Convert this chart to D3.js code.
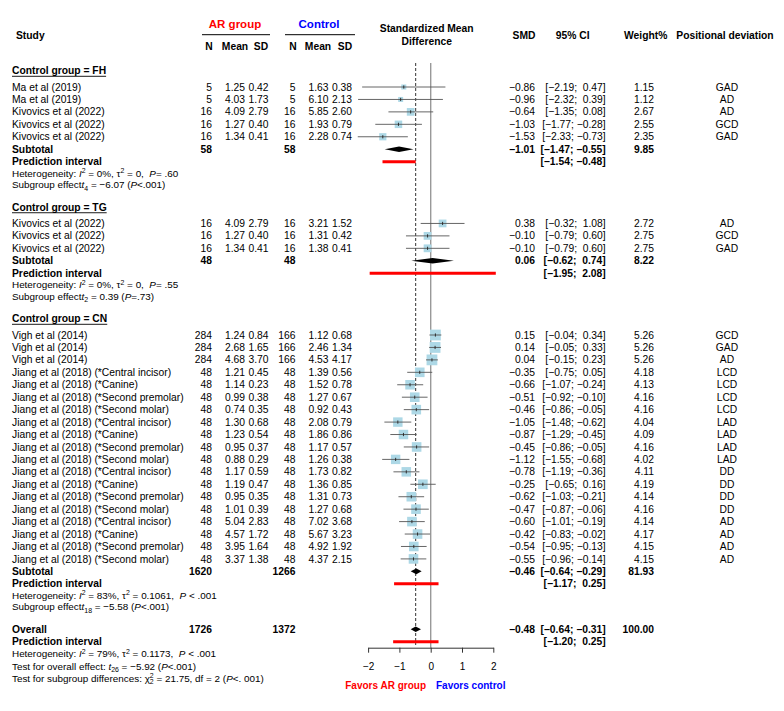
<!DOCTYPE html>
<html>
<head>
<meta charset="utf-8">
<script src="https://cdn.jsdelivr.net/npm/d3@7"></script>
<style>
  body { margin: 0; background: #fff; }
  svg text { font-family: "Liberation Sans", Arial, Helvetica, sans-serif; white-space: pre; }
</style>
</head>
<body>
<svg id="chart" width="784" height="711"></svg>
<script>
// ---- data ----
const groupNames = ["FH", "TG", "CN"];
const groupSizes = [5, 3, 19];

const studyNames = [
  "Ma et al (2019)", "Ma et al (2019)", "Kivovics et al (2022)", "Kivovics et al (2022)", "Kivovics et al (2022)",
  "Kivovics et al (2022)", "Kivovics et al (2022)", "Kivovics et al (2022)",
  "Vigh et al (2014)", "Vigh et al (2014)", "Vigh et al (2014)",
  "Jiang et al (2018) (*Central incisor)", "Jiang et al (2018) (*Canine)", "Jiang et al (2018) (*Second premolar)", "Jiang et al (2018) (*Second molar)",
  "Jiang et al (2018) (*Central incisor)", "Jiang et al (2018) (*Canine)", "Jiang et al (2018) (*Second premolar)", "Jiang et al (2018) (*Second molar)",
  "Jiang et al (2018) (*Central incisor)", "Jiang et al (2018) (*Canine)", "Jiang et al (2018) (*Second premolar)", "Jiang et al (2018) (*Second molar)",
  "Jiang et al (2018) (*Central incisor)", "Jiang et al (2018) (*Canine)", "Jiang et al (2018) (*Second premolar)", "Jiang et al (2018) (*Second molar)"
];
const arN    = [5, 5, 16, 16, 16, 16, 16, 16, 284, 284, 284, 48, 48, 48, 48, 48, 48, 48, 48, 48, 48, 48, 48, 48, 48, 48, 48];
const arMean = [1.25, 4.03, 4.09, 1.27, 1.34, 4.09, 1.27, 1.34, 1.24, 2.68, 4.68, 1.21, 1.14, 0.99, 0.74, 1.30, 1.23, 0.95, 0.88, 1.17, 1.19, 0.95, 1.01, 5.04, 4.57, 3.95, 3.37];
const arSD   = [0.42, 1.73, 2.79, 0.40, 0.41, 2.79, 0.40, 0.41, 0.84, 1.65, 3.70, 0.45, 0.23, 0.38, 0.35, 0.68, 0.54, 0.37, 0.29, 0.59, 0.47, 0.35, 0.39, 2.83, 1.72, 1.64, 1.38];
const ctN    = [5, 5, 16, 16, 16, 16, 16, 16, 166, 166, 166, 48, 48, 48, 48, 48, 48, 48, 48, 48, 48, 48, 48, 48, 48, 48, 48];
const ctMean = [1.63, 6.10, 5.85, 1.93, 2.28, 3.21, 1.31, 1.38, 1.12, 2.46, 4.53, 1.39, 1.52, 1.27, 0.92, 2.08, 1.86, 1.17, 1.26, 1.73, 1.36, 1.31, 1.27, 7.02, 5.67, 4.92, 4.37];
const ctSD   = [0.38, 2.13, 2.60, 0.79, 0.74, 1.52, 0.42, 0.41, 0.68, 1.34, 4.17, 0.56, 0.78, 0.67, 0.43, 0.79, 0.86, 0.57, 0.38, 0.82, 0.85, 0.73, 0.68, 3.68, 3.23, 1.92, 2.15];
const smd    = [-0.86, -0.96, -0.64, -1.03, -1.53, 0.38, -0.10, -0.10, 0.15, 0.14, 0.04, -0.35, -0.66, -0.51, -0.46, -1.05, -0.87, -0.45, -1.12, -0.78, -0.25, -0.62, -0.47, -0.60, -0.42, -0.54, -0.55];
const ciLo   = [-2.19, -2.32, -1.35, -1.77, -2.33, -0.32, -0.79, -0.79, -0.04, -0.05, -0.15, -0.75, -1.07, -0.92, -0.86, -1.48, -1.29, -0.86, -1.55, -1.19, -0.65, -1.03, -0.87, -1.01, -0.83, -0.95, -0.96];
const ciHi   = [0.47, 0.39, 0.08, -0.28, -0.73, 1.08, 0.60, 0.60, 0.34, 0.33, 0.23, 0.05, -0.24, -0.10, -0.05, -0.62, -0.45, -0.05, -0.68, -0.36, 0.16, -0.21, -0.06, -0.19, -0.02, -0.13, -0.14];
const weight = [1.15, 1.12, 2.67, 2.55, 2.35, 2.72, 2.75, 2.75, 5.26, 5.26, 5.26, 4.18, 4.13, 4.16, 4.16, 4.04, 4.09, 4.16, 4.02, 4.11, 4.19, 4.14, 4.16, 4.14, 4.17, 4.15, 4.15];
const deviation = ["GAD", "AD", "AD", "GCD", "GAD", "AD", "GCD", "GAD", "GCD", "GAD", "AD",
  "LCD", "LCD", "LCD", "LCD", "LAD", "LAD", "LAD", "LAD", "DD", "DD", "DD", "DD", "AD", "AD", "AD", "AD"];

const subArN   = [58, 48, 1620];
const subCtN   = [58, 48, 1266];
const subSmd   = [-1.01, 0.06, -0.46];
const subLo    = [-1.47, -0.62, -0.64];
const subHi    = [-0.55, 0.74, -0.29];
const subWeight = [9.85, 8.22, 81.93];
const piLo     = [-1.54, -1.95, -1.17];
const piHi     = [-0.48, 2.08, 0.25];
const hetI2    = ["0%", "0%", "83%"];
const hetTau2  = ["0", "0", "0.1061"];
const hetP     = ["= .60", "= .55", " < .001"];
const subDf    = ["4", "2", "18"];
const subT     = ["\u22126.07", "0.39", "\u22125.58"];
const subP     = ["<.001", "=.73", "<.001"];

const overallN = [1726, 1372];
const overallEst = [-0.48, -0.64, -0.31];
const overallPI = [-1.20, 0.25];
const overallHet = ["79%", "0.1173", " < .001"];
const overallTest = ["26", "\u22125.92", "<.001"];
const subgroupTest = ["21.75", "2", "<. 001"];

const xTicks = [-2, -1, 0, 1, 2];

// ---- layout ----
const svg = d3.select("#chart");
const FONT = 10.3, SMALL = 9.9;
const rowH = 12.44, hetH = 11.5;
const f2 = d3.format(".2f");
const ciText = (lo, hi) => `[${f2(lo)}; ${hi >= 0 ? " " : ""}${f2(hi)}]`;

const x = d3.scaleLinear().domain([-2, 2]).range([368.1, 493.3]);
const col = { study: 12, arN: 212, arMean: 245, arSD: 268.5, ctN: 295.5, ctMean: 328.5, ctSD: 352, smd: 535, ci: 605.7, w: 654, dev: 727 };

function txt(xp, yp, s, opt = {}) {
  return svg.append("text")
    .attr("x", xp).attr("y", yp).attr("dy", "0.35em")
    .attr("font-size", opt.size || FONT)
    .attr("font-weight", opt.bold ? "bold" : null)
    .attr("text-anchor", opt.anchor || "start")
    .attr("fill", opt.color || "#000")
    .text(s);
}

// rich text: segments [string, kind] kind in "", "i", "sup", "sub"
function rich(xp, yp, segs) {
  const t = svg.append("text").attr("x", xp).attr("y", yp + SMALL * 0.35)
    .attr("font-size", SMALL).attr("fill", "#000");
  let shift = 0;
  segs.forEach(([s, k]) => {
    const sp = t.append("tspan").text(s);
    let target = 0;
    if (k === "i") sp.attr("font-style", "italic");
    if (k === "sup") { target = -3.5; sp.attr("font-size", SMALL * 0.7); }
    if (k === "sub") { target = 2.6; sp.attr("font-size", SMALL * 0.7); }
    if (target !== shift) sp.attr("dy", target - shift);
    shift = target;
  });
  return t;
}

// header
txt(16, 35, "Study", { bold: true });
txt(235, 24, "AR group", { bold: true, size: 11.5, anchor: "middle", color: "#FF0000" });
txt(319, 24, "Control", { bold: true, size: 11.5, anchor: "middle", color: "#0000FF" });
svg.append("line").attr("x1", 202).attr("x2", 270).attr("y1", 34.7).attr("y2", 34.7).attr("stroke", "#000");
svg.append("line").attr("x1", 285).attr("x2", 355).attr("y1", 34.7).attr("y2", 34.7).attr("stroke", "#000");
[["N", 209], ["Mean", 235], ["SD", 261], ["N", 293], ["Mean", 318], ["SD", 345]].forEach(([s, xp]) =>
  txt(xp, 46.7, s, { bold: true, anchor: "middle" }));
txt(426.7, 28.7, "Standardized Mean", { bold: true, anchor: "middle" });
txt(426.7, 41, "Difference", { bold: true, anchor: "middle" });
txt(524, 35, "SMD", { bold: true, anchor: "middle" });
txt(572.7, 35, "95% CI", { bold: true, anchor: "middle" });
txt(645.7, 35, "Weight%", { bold: true, anchor: "middle" });
txt(725, 35, "Positional deviation", { bold: true, anchor: "middle" });

// reference lines
const plotTop = 63, axisY = 647.7;
svg.append("line").attr("x1", x(0)).attr("x2", x(0)).attr("y1", plotTop).attr("y2", axisY)
  .attr("stroke", "#999").attr("stroke-width", 1.4);
svg.append("line").attr("x1", x(overallEst[0])).attr("x2", x(overallEst[0])).attr("y1", plotTop).attr("y2", 645)
  .attr("stroke", "#333").attr("stroke-width", 1).attr("stroke-dasharray", "3,2");

function diamond(yp, est, lo, hi) {
  const h = 2.8;
  svg.append("polygon")
    .attr("points", [[x(lo), yp], [x(est), yp - h], [x(hi), yp], [x(est), yp + h]].map(p => p.join(",")).join(" "))
    .attr("fill", "#000");
}
function piLine(yp, lo, hi) {
  svg.append("line").attr("x1", x(lo)).attr("x2", x(hi)).attr("y1", yp).attr("y2", yp)
    .attr("stroke", "#FF0000").attr("stroke-width", 3);
}

let y = 70.7;
let idx = 0;
groupNames.forEach((g, gi) => {
  const head = txt(col.study, y, `Control group = ${g}`, { bold: true });
  const len = head.node().getComputedTextLength();
  svg.append("line").attr("x1", col.study).attr("x2", col.study + len)
    .attr("y1", y + 5.6).attr("y2", y + 5.6).attr("stroke", "#000").attr("stroke-width", 0.9);
  y += 16.3;
  for (let k = 0; k < groupSizes[gi]; k++, idx++) {
    const i = idx;
    txt(col.study, y, studyNames[i]);
    txt(col.arN, y, arN[i], { anchor: "end" });
    txt(col.arMean, y, f2(arMean[i]), { anchor: "end" });
    txt(col.arSD, y, f2(arSD[i]), { anchor: "end" });
    txt(col.ctN, y, ctN[i], { anchor: "end" });
    txt(col.ctMean, y, f2(ctMean[i]), { anchor: "end" });
    txt(col.ctSD, y, f2(ctSD[i]), { anchor: "end" });
    txt(col.smd, y, f2(smd[i]), { anchor: "end" });
    txt(col.ci, y, ciText(ciLo[i], ciHi[i]), { anchor: "end" });
    txt(col.w, y, f2(weight[i]), { anchor: "end" });
    txt(col.dev, y, deviation[i], { anchor: "middle" });
    const side = 4.7 * Math.sqrt(weight[i]);
    svg.append("rect").attr("x", x(smd[i]) - side / 2).attr("y", y - side / 2)
      .attr("width", side).attr("height", side).attr("fill", "#ADD8E6");
    svg.append("line").attr("x1", x(ciLo[i])).attr("x2", x(ciHi[i])).attr("y1", y).attr("y2", y)
      .attr("stroke", "#555").attr("stroke-width", 0.9);
    svg.append("line").attr("x1", x(smd[i])).attr("x2", x(smd[i])).attr("y1", y - 1.6).attr("y2", y + 1.6)
      .attr("stroke", "#222").attr("stroke-width", 0.9);
    y += rowH;
  }
  txt(col.study, y, "Subtotal", { bold: true });
  txt(col.arN, y, subArN[gi], { bold: true, anchor: "end" });
  txt(col.ctN, y, subCtN[gi], { bold: true, anchor: "end" });
  txt(col.smd, y, f2(subSmd[gi]), { bold: true, anchor: "end" });
  txt(col.ci, y, ciText(subLo[gi], subHi[gi]), { bold: true, anchor: "end" });
  txt(col.w, y, f2(subWeight[gi]), { bold: true, anchor: "end" });
  diamond(y, subSmd[gi], subLo[gi], subHi[gi]);
  y += rowH;
  txt(col.study, y, "Prediction interval", { bold: true });
  txt(col.ci, y, ciText(piLo[gi], piHi[gi]), { bold: true, anchor: "end" });
  piLine(y, piLo[gi], piHi[gi]);
  y += hetH;
  rich(col.study, y, [["Heterogeneity: ", ""], ["I", "i"], ["2", "sup"], [" = " + hetI2[gi] + ", \u03C4", ""], ["2", "sup"],
    [" = " + hetTau2[gi] + ",  ", ""], ["P", "i"], [hetP[gi], ""]]);
  y += hetH;
  rich(col.study, y, [["Subgroup effect", ""], ["t", "i"], [subDf[gi], "sub"], [" = " + subT[gi] + " (", ""], ["P", "i"], [subP[gi] + ")", ""]]);
  y += 22.5;
});

// overall
txt(col.study, y, "Overall", { bold: true });
txt(col.arN, y, overallN[0], { bold: true, anchor: "end" });
txt(col.ctN, y, overallN[1], { bold: true, anchor: "end" });
txt(col.smd, y, f2(overallEst[0]), { bold: true, anchor: "end" });
txt(col.ci, y, ciText(overallEst[1], overallEst[2]), { bold: true, anchor: "end" });
txt(col.w, y, "100.00", { bold: true, anchor: "end" });
diamond(y, overallEst[0], overallEst[1], overallEst[2]);
y += rowH;
txt(col.study, y, "Prediction interval", { bold: true });
txt(col.ci, y, ciText(overallPI[0], overallPI[1]), { bold: true, anchor: "end" });
piLine(y, overallPI[0], overallPI[1]);
y += 12;
rich(col.study, y, [["Heterogeneity: ", ""], ["I", "i"], ["2", "sup"], [" = " + overallHet[0] + ", \u03C4", ""], ["2", "sup"],
  [" = " + overallHet[1] + ",  ", ""], ["P", "i"], [overallHet[2], ""]]);
y += 12.3;
rich(col.study, y, [["Test for overall effect: ", ""], ["t", "i"], [overallTest[0], "sub"], [" = " + overallTest[1] + " (", ""], ["P", "i"], [overallTest[2] + ")", ""]]);
y += 12;
const chi = rich(col.study, y, [["Test for subgroup differences: \u03C7", ""], ["2", "sup"]]);
chi.append("tspan").attr("font-size", SMALL * 0.7).attr("dx", -3.9).attr("dy", 6.1).text(subgroupTest[1]);
chi.append("tspan").attr("dy", -2.6).text(" = " + subgroupTest[0] + ", df = " + subgroupTest[1] + " (");
chi.append("tspan").attr("font-style", "italic").text("P");
chi.append("tspan").text(subgroupTest[2] + ")");

// axis
const axis = svg.append("g").attr("transform", `translate(0,${axisY})`)
  .call(d3.axisBottom(x).tickValues(xTicks).tickSize(5).tickSizeOuter(0).tickPadding(10).tickFormat(d3.format("d")));
axis.select(".domain").attr("stroke", "#333");
axis.selectAll(".tick line").attr("stroke", "#333");
axis.selectAll("text").attr("font-size", 10).attr("font-family", "Liberation Sans, Arial, sans-serif");

txt(426, 685, "Favors AR group", { bold: true, size: 10, anchor: "end", color: "#FF0000" });
txt(436, 685, "Favors control", { bold: true, size: 10, color: "#0000FF" });
</script>
</body>
</html>
